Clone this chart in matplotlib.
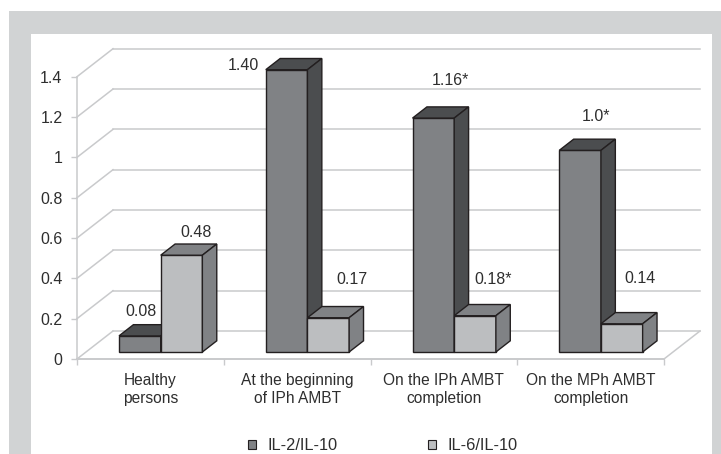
import matplotlib
matplotlib.use('Agg')
from matplotlib import pyplot as plt
from matplotlib.patches import Patch, Polygon, Rectangle

categories = ['Healthy\npersons', 'At the beginning\nof IPh AMBT',
              'On the IPh AMBT\ncompletion', 'On the MPh AMBT\ncompletion']
il2_values = [0.08, 1.40, 1.16, 1.0]
il6_values = [0.48, 0.17, 0.18, 0.14]
il2_labels = ['0.08', '1.40', '1.16*', '1.0*']
il6_labels = ['0.48', '0.17', '0.18*', '0.14']
y_ticks = [0, 0.2, 0.4, 0.6, 0.8, 1, 1.2, 1.4]
y_tick_labels = ['0', '0.2', '0.4', '0.6', '0.8', '1', '1.2', '1.4']

W, H = 721, 454
TEXT = '#2e2e2e'
GRID = '#c9cacc'
EDGE = '#231f20'
BAND = '#d1d3d4'
IL2_COLORS = ('#808285', '#4b4d4f')
IL6_COLORS = ('#bcbec0', '#808285')

# depth of the box in data units (36 px across, 28 px up)
DEPTH_X = 36 / 146.75
DEPTH_Y = 28 / 201.7
BAR_START = 0.225
BAR_WIDTH = 0.284
BAR_D0 = 0.25
BAR_D1 = 0.65

# label offsets from the top middle of each bar, in pixels
il2_offsets = [(1, 24), (-43, 4), (17, 38), (16, 34)]
il6_offsets = [(15, 23), (24, 38), (18, 36), (18, 45)]

plt.rcParams['font.family'] = ['Liberation Sans', 'DejaVu Sans']
plt.rcParams['font.size'] = 11.5


def proj(x, y, d):
    return x + d * DEPTH_X, y + d * DEPTH_Y


def draw_bar(ax, x, value, colors, z):
    front, dark = colors
    x1 = x + BAR_WIDTH
    faces = [
        ([(x, 0, BAR_D0), (x1, 0, BAR_D0), (x1, value, BAR_D0), (x, value, BAR_D0)], front),
        ([(x, value, BAR_D0), (x1, value, BAR_D0), (x1, value, BAR_D1), (x, value, BAR_D1)], dark),
        ([(x1, 0, BAR_D0), (x1, 0, BAR_D1), (x1, value, BAR_D1), (x1, value, BAR_D0)], dark),
    ]
    for pts, color in faces:
        ax.add_patch(Polygon([proj(*p) for p in pts], closed=True, facecolor=color,
                             edgecolor=EDGE, linewidth=1, joinstyle='miter',
                             clip_on=False, zorder=z))


def add_label(ax, x, value, text, offset):
    cx, cy = proj(x + BAR_WIDTH / 2, value, BAR_D0)
    ax.annotate(text, xy=(cx, cy), xytext=(offset[0] * 0.72, offset[1] * 0.72),
                textcoords='offset points', ha='center', va='center',
                color=TEXT, annotation_clip=False, zorder=20)


fig = plt.figure(figsize=(W / 100, H / 100), dpi=100, facecolor='white')
fig.add_artist(Rectangle((9 / W, 0), 712 / W, 443 / H, transform=fig.transFigure,
                         facecolor=BAND, edgecolor='none', zorder=-2))
fig.add_artist(Rectangle((31 / W, 0), 681 / W, 420 / H, transform=fig.transFigure,
                         facecolor='white', edgecolor='none', zorder=-1))

ax = fig.add_axes([77 / W, (H - 359) / H, 587 / W, 282.3 / H])
ax.patch.set_visible(False)
ax.set_xlim(0, 4)
ax.set_ylim(0, 1.4)
for spine in ax.spines.values():
    spine.set_visible(False)

for t in y_ticks:
    x_back, y_back = proj(0, t, 1)
    ax.plot([0, x_back], [t, y_back], color=GRID, lw=1.1, clip_on=False, zorder=1)
    ax.plot([x_back, 4 + DEPTH_X], [y_back, y_back], color=GRID, lw=1.1, clip_on=False, zorder=1)
ax.plot([0, 0], [0, 1.4], color=GRID, lw=1.1, clip_on=False, zorder=1)
ax.plot([0, 4], [0, 0], color=GRID, lw=1.4, clip_on=False, zorder=1)
ax.plot([4, 4 + DEPTH_X], [0, DEPTH_Y], color=GRID, lw=1.1, clip_on=False, zorder=1)

ax.set_yticks(y_ticks, y_tick_labels)
ax.set_xticks(range(5), [''] * 5)
ax.set_xticks([i + 0.5 for i in range(4)], categories, minor=True, linespacing=1.27, fontsize=11.2)
ax.tick_params(axis='y', length=4, width=1, color=GRID, labelcolor=TEXT, pad=6.5)
ax.tick_params(axis='x', which='major', length=4, width=1, color=GRID)
ax.tick_params(axis='x', which='minor', length=0, labelcolor=TEXT, pad=10)

for i in range(len(categories)):
    x = i + BAR_START
    draw_bar(ax, x, il2_values[i], IL2_COLORS, 5 + i * 2)
    draw_bar(ax, x + BAR_WIDTH, il6_values[i], IL6_COLORS, 6 + i * 2)
    add_label(ax, x, il2_values[i], il2_labels[i], il2_offsets[i])
    add_label(ax, x + BAR_WIDTH, il6_values[i], il6_labels[i], il6_offsets[i])

handles = [Patch(facecolor=IL2_COLORS[0], edgecolor=EDGE, linewidth=0.8),
           Patch(facecolor=IL6_COLORS[0], edgecolor=EDGE, linewidth=0.8)]
fig.legend(handles, ['IL-2/IL-10', 'IL-6/IL-10'], ncol=2, frameon=False,
           loc='center', bbox_to_anchor=(383 / W, 8 / H), labelcolor=TEXT, fontsize=11.8,
           handlelength=0.5, handleheight=0.5, handletextpad=0.7,
           columnspacing=5.5, borderpad=0)

fig.savefig('out.png', dpi=100, facecolor='white')
